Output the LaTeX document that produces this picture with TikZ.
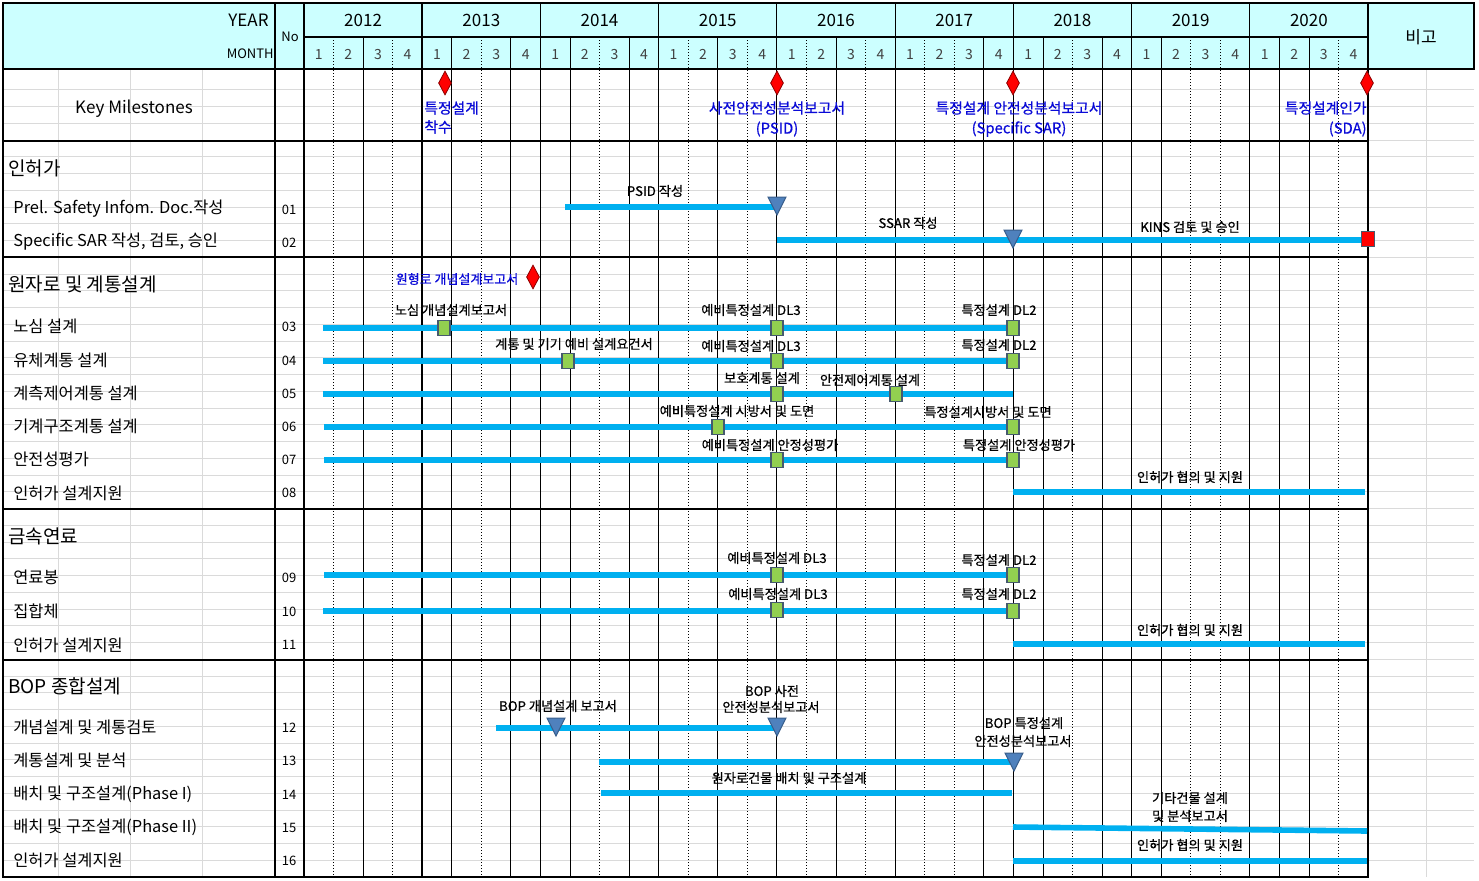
\documentclass[tikz,border=0pt]{standalone}
\usepackage{fontspec}
\setmainfont{Noto Sans CJK KR}
\newfontfamily\notefont[FakeBold=0.6]{Noto Sans CJK KR}
\usetikzlibrary{shapes.geometric}

\definecolor{hdrcyan}{RGB}{204,255,255}
\definecolor{barblue}{RGB}{0,176,240}
\definecolor{triblue}{RGB}{79,129,189}
\definecolor{triedge}{RGB}{56,93,138}
\definecolor{sqgreen}{RGB}{146,208,80}
\definecolor{sqedge}{RGB}{70,90,110}
\definecolor{msblue}{RGB}{10,10,215}
\definecolor{gridgray}{RGB}{218,218,218}

\begin{document}
\begin{tikzpicture}[x=0.5pt,y=-0.5pt,
  bar/.style={line width=2.8pt,barblue},
  sq/.style={draw=sqedge,fill=sqgreen,line width=0.7pt,minimum width=6pt,minimum height=7.5pt,inner sep=0pt},
  gem/.style={diamond,draw=red!55!black,fill=red,line width=0.4pt,minimum width=6.5pt,minimum height=12pt,inner sep=0pt},
  note/.style={font=\notefont\fontsize{6.6}{7.5}\selectfont,inner sep=0pt},
  msnote/.style={font=\notefont\fontsize{7.4}{8.5}\selectfont,text=msblue,inner sep=0pt},
  rowlbl/.style={font=\fontsize{8.2}{9.5}\selectfont,anchor=west,inner sep=0pt},
  seclbl/.style={font=\fontsize{9.5}{11}\selectfont,anchor=west,inner sep=0pt},
  numlbl/.style={font=\fontsize{6.5}{8}\selectfont,inner sep=0pt},
  hdr/.style={font=\fontsize{8.5}{10}\selectfont,inner sep=0pt},
  tridown/.pic={\draw[fill=triblue,draw=triedge,line width=0.5pt] (-9,-10) -- (9,-10) -- (0,8) -- cycle;}
]
\useasboundingbox (0,0) rectangle (1479,880);

% header and cell grid
\fill[hdrcyan] (3,3) rectangle (1474,69);
\foreach \i in {1,...,47} \draw[gridgray,line width=0.4pt] (3,{877-16.75*\i}) -- (1474,{877-16.75*\i});
\foreach \x in {58,130,202,1426} \draw[gridgray,line width=0.4pt] (\x,69) -- (\x,877);

% quarter lines
\foreach \k in {2,5,7,8,9,11,12,14,16,18,20,23,24,25,27,28,29,32,33,34}
  \draw[line width=0.5pt] ({304+29.56*\k},37) -- ({304+29.56*\k},877);
\foreach \k in {1,3,6,10,13,15,17,19,21,22,26,30,31,35}
  \draw[line width=0.5pt,densely dotted] ({304+29.56*\k},37) -- ({304+29.56*\k},877);
\foreach \k in {8,12,...,32}
  \draw[line width=0.5pt] ({304+29.56*\k},3) -- ({304+29.56*\k},37);
\draw[line width=1.2pt] (422.2,3) -- (422.2,877);

% frame
\draw[line width=0.6pt] (3,3) rectangle (1474,69);
\draw[line width=1pt] (3,69) -- (1474,69);
\draw[line width=0.6pt] (304,37) -- (1368,37);
\draw[line width=0.6pt] (3,69) -- (3,877) -- (1368,877) -- (1368,3);
\draw[line width=0.6pt] (275,3) -- (275,877);
\draw[line width=0.6pt] (304,3) -- (304,877);
\draw[line width=0.6pt] (3,141) -- (1368,141);
\draw[line width=0.8pt] (3,257) -- (1368,257);
\draw[line width=0.8pt] (3,509) -- (1368,509);
\draw[line width=1.3pt] (3,660) -- (1368,660);

\node[hdr,anchor=east] (yearhd) at (269,20) {YEAR};
\node[numlbl,anchor=east] (monthhd) at (274,54) {MONTH};
\node[numlbl] (nohd) at (290,37) {No};
\node[hdr] (bigo) at (1421,37) {비고};
\foreach \yr [count=\i from 0] in {2012,...,2020}
  \node[hdr] (y\yr) at ({363.1+118.22*\i},20) {\yr};
\foreach \k in {0,...,35}{
  \pgfmathtruncatemacro\q{mod(\k,4)+1}
  \node[font=\fontsize{7}{8}\selectfont,text=black!75,inner sep=0pt] (q\k) at ({318.8+29.56*\k},54) {\q};
}

% key milestones
\node[hdr] (keyms) at (134,109) {Key Milestones};
\node[gem] (km1) at (445,83) {};
\node[gem] (km2) at (777,83) {};
\node[gem] (km3) at (1013,83) {};
\node[gem] (km4) at (1367,83) {};
\node[msnote,anchor=west] (km1a) at (424,108) {특정설계};
\node[msnote,anchor=west] (km1b) at (424,127) {착수};
\node[msnote] (km2a) at (777,108) {사전안전성분석보고서};
\node[msnote] (km2b) at (777,129) {(PSID)};
\node[msnote] (km3a) at (1019,108) {특정설계 안전성분석보고서};
\node[msnote] (km3b) at (1019,129) {(Specific SAR)};
\node[msnote,anchor=east] (km4a) at (1367,108) {특정설계인가};
\node[msnote,anchor=east] (km4b) at (1367,129) {(SDA)};

% 인허가
\node[seclbl] (sec1) at (8,168) {인허가};
\node[rowlbl] (t01) at (13,209) {Prel. Safety Infom. Doc.작성};
\node[rowlbl] (t02) at (13,242) {Specific SAR 작성, 검토, 승인};
\node[numlbl] (n01) at (289,210) {01};
\node[numlbl] (n02) at (289,243) {02};
\draw[bar] (565,207) -- (777,207);
\draw[bar] (777,240) -- (1367,240);
\pic (p01) at (777,207) {tridown};
\pic (p02) at (1013,240) {tridown};
\node[draw=sqedge,fill=red,line width=0.6pt,minimum width=6.5pt,minimum height=7.5pt,inner sep=0pt] (sda) at (1368,239) {};
\node[note] (a01) at (655,191) {PSID 작성};
\node[note] (a02) at (908,223) {SSAR 작성};
\node[note] (a03) at (1190,227) {KINS 검토 및 승인};

% 원자로 및 계통설계
\node[seclbl] (sec2) at (8,284) {원자로 및 계통설계};
\node[font=\notefont\fontsize{6.5}{7.5}\selectfont,text=msblue,inner sep=0pt] (proto) at (457,279) {원형로 개념설계보고서};
\node[gem] (protod) at (533,277) {};
\node[rowlbl] (t03) at (13,326) {노심 설계};
\node[rowlbl] (t04) at (13,360) {유체계통 설계};
\node[rowlbl] (t05) at (13,393) {계측제어계통 설계};
\node[rowlbl] (t06) at (13,426) {기계구조계통 설계};
\node[rowlbl] (t07) at (13,459) {안전성평가};
\node[rowlbl] (t08) at (13,493) {인허가 설계지원};
\node[numlbl] (n03) at (289,327) {03};
\node[numlbl] (n04) at (289,361) {04};
\node[numlbl] (n05) at (289,394) {05};
\node[numlbl] (n06) at (289,427) {06};
\node[numlbl] (n07) at (289,460) {07};
\node[numlbl] (n08) at (289,493) {08};
\draw[bar] (323,328) -- (1013,328);
\draw[bar] (323,361) -- (1013,361);
\draw[bar] (323,394) -- (1013,394);
\draw[bar] (324,427) -- (1013,427);
\draw[bar] (324,460) -- (1013,460);
\draw[bar] (1013,492) -- (1365,492);
\node[sq] (s03a) at (444,328) {};
\node[sq] (s03b) at (777,328) {};
\node[sq] (s03c) at (1013,328) {};
\node[sq] (s04a) at (568,361) {};
\node[sq] (s04b) at (777,361) {};
\node[sq] (s04c) at (1013,361) {};
\node[sq] (s05a) at (777,394) {};
\node[sq] (s05b) at (896,394) {};
\node[sq] (s06a) at (718,427) {};
\node[sq] (s06b) at (1013,427) {};
\node[sq] (s07a) at (777,460) {};
\node[sq] (s07b) at (1013,460) {};
\node[note] (b03a) at (451,310) {노심 개념설계보고서};
\node[note] (b03b) at (751,310) {예비특정설계 DL3};
\node[note] (b03c) at (999,310) {특정설계 DL2};
\node[note] (b04a) at (574,344) {계통 및 기기 예비 설계요건서};
\node[note] (b04b) at (751,346) {예비특정설계 DL3};
\node[note] (b04c) at (999,345) {특정설계 DL2};
\node[note] (b05a) at (762,378) {보호계통 설계};
\node[note] (b05b) at (870,380) {안전제어계통 설계};
\node[note] (b06a) at (737,411) {예비특정설계 시방서 및 도면};
\node[note] (b06b) at (988,412) {특정설계시방서 및 도면};
\node[note] (b07a) at (770,445) {예비특정설계 안정성평가};
\node[note] (b07b) at (1019,445) {특정설계 안정성평가};
\node[note] (b08a) at (1190,477) {인허가 협의 및 지원};

% 금속연료
\node[seclbl] (sec3) at (8,536) {금속연료};
\node[rowlbl] (t09) at (13,577) {연료봉};
\node[rowlbl] (t10) at (13,611) {집합체};
\node[rowlbl] (t11) at (13,645) {인허가 설계지원};
\node[numlbl] (n09) at (289,578) {09};
\node[numlbl] (n10) at (289,612) {10};
\node[numlbl] (n11) at (289,645) {11};
\draw[bar] (324,575) -- (1013,575);
\draw[bar] (323,611) -- (1013,611);
\draw[bar] (1013,644) -- (1365,644);
\node[sq] (s09a) at (777,575) {};
\node[sq] (s09b) at (1013,575) {};
\node[sq] (s10a) at (777,610) {};
\node[sq] (s10b) at (1013,611) {};
\node[note] (c09a) at (777,558) {예비특정설계 DL3};
\node[note] (c09b) at (999,560) {특정설계 DL2};
\node[note] (c10a) at (778,594) {예비특정설계 DL3};
\node[note] (c10b) at (999,594) {특정설계 DL2};
\node[note] (c11a) at (1190,630) {인허가 협의 및 지원};

% BOP 종합설계
\node[seclbl] (sec4) at (8,686) {BOP 종합설계};
\node[rowlbl] (t12) at (13,727) {개념설계 및 계통검토};
\node[rowlbl] (t13) at (13,760) {계통설계 및 분석};
\node[rowlbl] (t14) at (13,794) {배치 및 구조설계(Phase I)};
\node[rowlbl] (t15) at (13,827) {배치 및 구조설계(Phase II)};
\node[rowlbl] (t16) at (13,860) {인허가 설계지원};
\node[numlbl] (n12) at (289,728) {12};
\node[numlbl] (n13) at (289,761) {13};
\node[numlbl] (n14) at (289,795) {14};
\node[numlbl] (n15) at (289,828) {15};
\node[numlbl] (n16) at (289,861) {16};
\draw[bar] (496,728) -- (777,728);
\draw[bar] (599,762) -- (1013,762);
\draw[bar] (601,793) -- (1012,793);
\draw[bar] (1013,827) -- (1367,831);
\draw[bar] (1013,861) -- (1367,861);
\pic (p12a) at (556,728) {tridown};
\pic (p12b) at (777,728) {tridown};
\pic (p13) at (1014,763) {tridown};
\node[note] (e12a) at (558,706) {BOP 개념설계 보고서};
\node[note] (e12b) at (772,691) {BOP 사전};
\node[note] (e12c) at (771,707) {안전성분석보고서};
\node[note] (e13a) at (1024,723) {BOP 특정설계};
\node[note] (e13b) at (1023,741) {안전성분석보고서};
\node[note] (e14a) at (789,778) {원자로건물 배치 및 구조설계};
\node[note] (e15a) at (1190,798) {기타건물 설계};
\node[note] (e15b) at (1190,816) {및 분석보고서};
\node[note] (e16a) at (1190,845) {인허가 협의 및 지원};

\end{tikzpicture}
\end{document}
